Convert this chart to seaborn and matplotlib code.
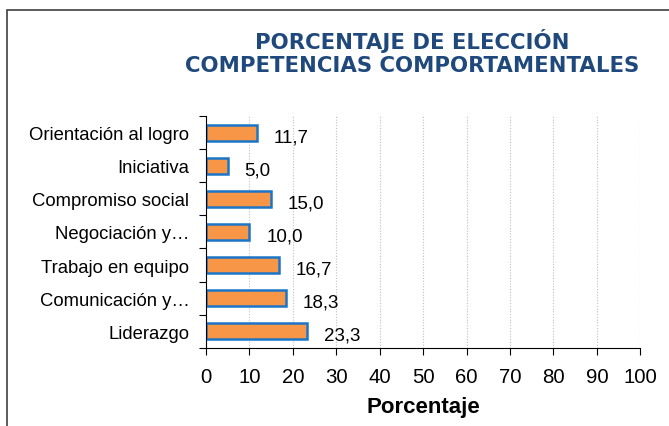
import pandas as pd
import seaborn as sns
import matplotlib.pyplot as plt
from matplotlib.patches import Rectangle
from matplotlib.ticker import FixedLocator

# ======================================
# Data
# ======================================

competencias = [
    "Orientación al logro",
    "Iniciativa",
    "Compromiso social",
    "Negociación y…",
    "Trabajo en equipo",
    "Comunicación y…",
    "Liderazgo",
]
porcentajes = [11.7, 5.0, 15.0, 10.0, 16.7, 18.3, 23.3]
x_ticks = [0, 10, 20, 30, 40, 50, 60, 70, 80, 90, 100]

df = pd.DataFrame({"Competencia": competencias, "Porcentaje": porcentajes})

# ======================================
# Style
# ======================================

sns.set_style("white")
plt.rcParams["font.family"] = ["Liberation Sans", "DejaVu Sans"]
plt.rcParams["text.color"] = "black"
plt.rcParams["xtick.color"] = "black"
plt.rcParams["ytick.color"] = "black"
plt.rcParams["axes.labelcolor"] = "black"

fig = plt.figure(figsize=(6.69, 4.27), dpi=100)
ax = fig.add_axes([0.308, 0.183, 0.649, 0.543])

# outer chart frame
fig.patches.append(Rectangle((0.0105, -0.05), 1.1, 1.024, transform=fig.transFigure,
                             fill=False, edgecolor="#404040", linewidth=1.2))

# ======================================
# Plot
# ======================================

sns.barplot(data=df, x="Porcentaje", y="Competencia", orient="h",
            color="#F79646", edgecolor="#1A75C8", linewidth=1.8,
            width=0.48, saturation=1, ax=ax)

for i, v in enumerate(porcentajes):
    ax.annotate(f"{v:.1f}".replace(".", ","), (v, i), xytext=(12, -3),
                textcoords="offset points", va="center", ha="left", fontsize=13.5)

ax.set_xlim(0, 100)
ax.set_ylim(len(competencias) - 0.5, -0.5)
ax.xaxis.set_major_locator(FixedLocator(x_ticks))
ax.grid(axis="x", color="#bfbfbf", linestyle=(0, (1, 1.5)), linewidth=0.8)
ax.set_axisbelow(True)

for s in ["top", "right"]:
    ax.spines[s].set_visible(False)
ax.spines["left"].set_color("black")
ax.spines["bottom"].set_color("black")

ax.yaxis.set_minor_locator(FixedLocator([i - 0.5 for i in range(len(competencias) + 1)]))
ax.tick_params(axis="y", which="major", length=0, labelsize=13.3, pad=12)
ax.tick_params(axis="y", which="minor", length=5, width=0.8, color="black", direction="out", left=True)
ax.tick_params(axis="x", which="major", length=5, width=0.8, color="black", direction="out",
               bottom=True, labelsize=14.7, pad=9)

ax.set_ylabel("")
ax.set_xlabel("Porcentaje", fontsize=16, fontweight="bold", labelpad=7)

fig.text(0.616, 0.877, "PORCENTAJE DE ELECCIÓN\nCOMPETENCIAS COMPORTAMENTALES",
         ha="center", va="center", fontsize=15.3, fontweight="bold",
         color="#1F497D", family=["DejaVu Sans"], linespacing=1.15)

fig.savefig("out.png", dpi=100)
